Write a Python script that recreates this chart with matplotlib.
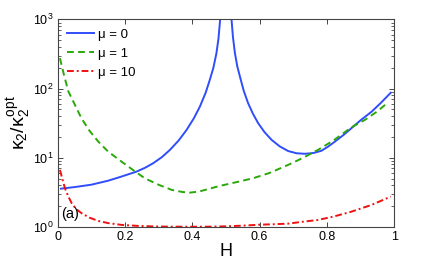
import matplotlib
matplotlib.use("Agg")
import matplotlib.pyplot as plt
from matplotlib.ticker import LogLocator, NullFormatter, FixedLocator

plt.rcParams.update(
    {
        "font.family": ["Liberation Sans", "DejaVu Sans"],
        "mathtext.fontset": "custom",
        "mathtext.rm": "Liberation Sans",
        "mathtext.it": "Liberation Sans",
        "mathtext.bf": "Liberation Sans:bold",
    }
)

# mu = 0, two branches around the pole near H = 0.5
H_MU0_LEFT = [0.01, 0.05, 0.10, 0.15, 0.185, 0.21, 0.235, 0.26, 0.284, 0.31, 0.334, 0.36,
              0.383, 0.405, 0.423, 0.44, 0.452, 0.463, 0.472, 0.478, 0.482, 0.485]
K_MU0_LEFT = [3.57, 3.76, 4.07, 4.65, 5.25, 5.75, 6.31, 7.16, 8.32, 10.2, 13.0, 17.8,
              25.1, 37.2, 55.0, 87.1, 132, 200, 324, 525, 871, 1260]
H_MU0_RIGHT = [0.515, 0.517, 0.521, 0.527, 0.534, 0.542, 0.553, 0.566, 0.58, 0.596, 0.615,
               0.636, 0.66, 0.685, 0.71, 0.735, 0.76, 0.784, 0.804, 0.824, 0.85, 0.873,
               0.90, 0.933, 0.96, 0.99]
K_MU0_RIGHT = [1260, 977, 562, 324, 209, 148, 93.3, 61.7, 43.7, 31.6, 23.4,
               18.1, 14.6, 12.5, 11.6, 11.4, 11.7, 12.6, 14.5, 17.1, 21.4, 26.7,
               34.7, 46.3, 61.7, 87.1]

H_MU1 = [0.007, 0.02, 0.032, 0.05, 0.071, 0.095, 0.121, 0.15, 0.19, 0.225, 0.259, 0.30,
         0.339, 0.37, 0.393, 0.42, 0.45, 0.482, 0.53, 0.581, 0.63, 0.685, 0.73, 0.774,
         0.82, 0.873, 0.913, 0.95, 0.982]
K_MU1 = [275, 151, 91.2, 60.3, 37.2, 24.5, 17.1, 12.3, 8.79, 6.61, 5.05, 4.07,
         3.43, 3.20, 3.13, 3.24, 3.55, 3.91, 4.42, 5.05, 6.03, 7.87, 10.0, 13.0,
         17.8, 27.5, 35.2, 46.8, 63.1]

H_MU10 = [0.007, 0.015, 0.022, 0.032, 0.042, 0.055, 0.071, 0.095, 0.121, 0.15, 0.19, 0.24,
          0.289, 0.35, 0.40, 0.45, 0.50, 0.55, 0.601, 0.65, 0.685, 0.73, 0.774, 0.82,
          0.873, 0.933, 0.99]
K_MU10 = [6.67, 4.79, 3.62, 2.75, 2.20, 1.82, 1.58, 1.36, 1.22, 1.135, 1.069, 1.033,
          1.014, 1.007, 1.005, 1.007, 1.019, 1.042, 1.076, 1.096, 1.114, 1.19, 1.26, 1.41,
          1.66, 2.08, 2.74]

X_TICKS = [0, 0.2, 0.4, 0.6, 0.8, 1]
X_TICK_LABELS = ["0", "0.2", "0.4", "0.6", "0.8", "1"]

BLUE = "#2f4dfb"
GREEN = "#2aa80a"
RED = "#f01010"

fig = plt.figure(figsize=(4.36, 2.62), dpi=100)
ax = fig.add_axes([0.132, 0.134, 0.772, 0.792])

ax.plot(H_MU0_LEFT, K_MU0_LEFT, color=BLUE, lw=1.4, label="μ = 0")
ax.plot(H_MU0_RIGHT, K_MU0_RIGHT, color=BLUE, lw=1.4)
ax.plot(H_MU1, K_MU1, color=GREEN, lw=1.4, ls=(0, (3.5, 2.2)), label="μ = 1")
ax.plot(H_MU10, K_MU10, color=RED, lw=1.4, ls=(0, (3.5, 1.5, 1, 1.5)), label="μ = 10")

ax.set_yscale("log")
ax.set_xlim(0, 1)
ax.set_ylim(1, 1000)
ax.xaxis.set_major_locator(FixedLocator(X_TICKS))
ax.set_xticklabels(X_TICK_LABELS)
ax.yaxis.set_major_locator(LogLocator(base=10, numticks=10))
ax.yaxis.set_minor_locator(LogLocator(base=10, subs=range(2, 10), numticks=10))
ax.yaxis.set_minor_formatter(NullFormatter())

ax.tick_params(which="both", direction="in", top=True, right=True, labelsize=9,
               color="#444444", pad=3)
ax.tick_params(which="major", length=3.5, width=0.7)
ax.tick_params(which="minor", length=2, width=0.6)
for sp in ax.spines.values():
    sp.set_color("#444444")
    sp.set_linewidth(0.8)

ax.set_xlabel("H", fontsize=13, labelpad=0)
ax.set_ylabel(r"$\kappa_2/\kappa_2^{\mathrm{opt}}$", fontsize=14, labelpad=0)

ax.text(0.012, 0.03, "(a)", transform=ax.transAxes, fontsize=10.5, ha="left", va="bottom")

ax.legend(loc="upper left", frameon=False, fontsize=9.5, handlelength=2.1,
          handletextpad=0.25, labelspacing=0.5, borderaxespad=0.4, borderpad=0.3)

fig.savefig("out.png", dpi=100)
